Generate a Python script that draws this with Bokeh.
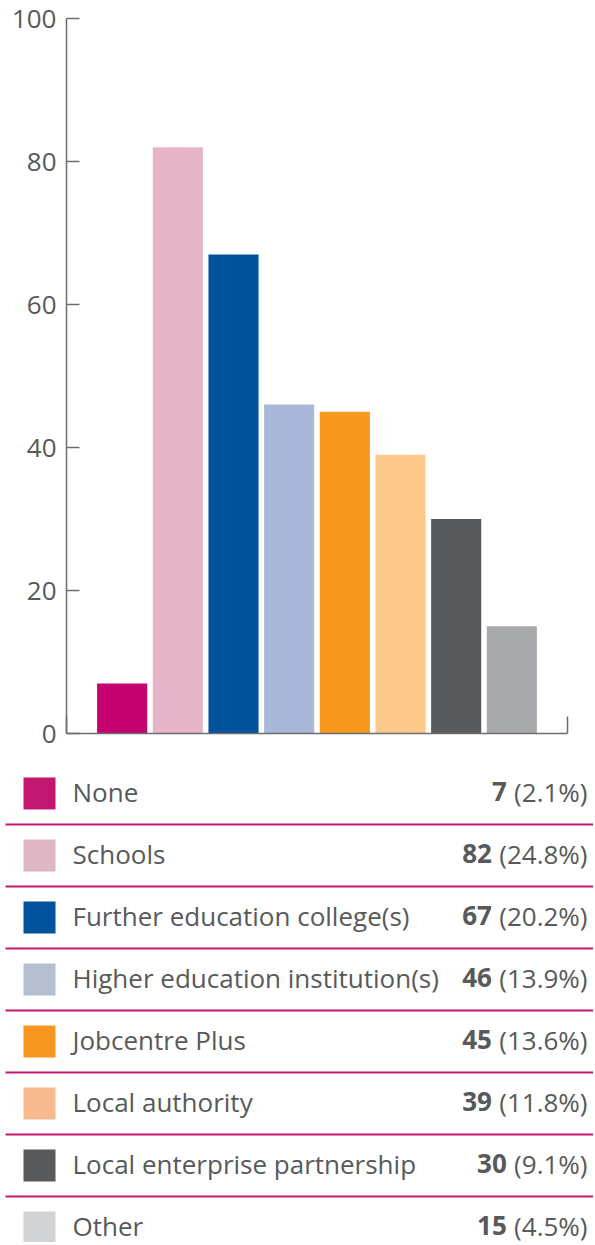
from bokeh.plotting import figure
from bokeh.models import Range1d, FixedTicker, ColumnDataSource
from bokeh.core.properties import value
from bokeh.embed import file_html
from bokeh.resources import INLINE

# ---- data ----
categories = ["None", "Schools", "Further education college(s)",
              "Higher education institution(s)", "Jobcentre Plus",
              "Local authority", "Local enterprise partnership", "Other"]
counts = [7, 82, 67, 46, 45, 39, 30, 15]
percents = ["2.1", "24.8", "20.2", "13.9", "13.6", "11.8", "9.1", "4.5"]
bar_colors = ["#C4006F", "#E6B5CA", "#00529B", "#A9B7D9",
              "#F7971E", "#FDC98A", "#58595B", "#A7A9AC"]
key_colors = ["#C1176E", "#DFB6C3", "#00529B", "#B5BECE",
              "#F7971F", "#F7BA8E", "#58595B", "#D1D3D4"]
y_ticks = [0, 20, 40, 60, 80, 100]

TEXT = "#58595B"
AXIS = "#6D6E71"
RULE = "#C2186F"
FONT = "Open Sans"
FS = 26
W_PAGE = 593

# ---- bar chart ----
idx = list(range(len(categories)))
p = figure(width=W_PAGE, height=760, x_range=Range1d(-1, len(categories)),
           y_range=Range1d(0, 100), output_backend="svg", toolbar_location=None,
           min_border_left=66, min_border_right=W_PAGE - 567, min_border_top=18,
           min_border_bottom=27)
p.outline_line_color = None
p.grid.visible = False

src = ColumnDataSource(dict(x=idx, top=counts, color=bar_colors, cat=categories))
p.vbar(x="x", top="top", bottom=0, width=0.9, fill_color="color",
       line_color=None, source=src)

ya = p.yaxis[0]
ya.ticker = FixedTicker(ticks=y_ticks)
ya.axis_line_color = AXIS
ya.axis_line_width = 1.5
ya.major_tick_line_color = AXIS
ya.major_tick_line_width = 1.5
ya.major_tick_in = 13
ya.major_tick_out = 0
ya.minor_tick_line_color = None
ya.major_label_text_font = FONT
ya.major_label_text_font_size = f"{FS}px"
ya.major_label_text_color = TEXT
ya.major_label_standoff = 10

xa = p.xaxis[0]
xa.ticker = FixedTicker(ticks=[-1, len(categories)])
xa.axis_line_color = AXIS
xa.axis_line_width = 1.5
xa.major_tick_line_color = AXIS
xa.major_tick_line_width = 1.5
xa.major_tick_in = 17
xa.major_tick_out = 0
xa.minor_tick_line_color = None
xa.major_label_text_alpha = 0
xa.major_label_text_font_size = "1px"

# ---- key table (coordinates in page pixels) ----
TOP, BOT = 760, 1242
q = figure(width=W_PAGE, height=BOT - TOP, x_range=Range1d(0, W_PAGE),
           y_range=Range1d(BOT, TOP), output_backend="svg", toolbar_location=None,
           min_border=0)
q.outline_line_color = None
q.grid.visible = False
q.axis.visible = False

pitch = 62
baselines = [803 + pitch * i for i in idx]
centers = [b - 10 for b in baselines]
rules = [b + 21 for b in baselines[:-1]]
TXT_SHIFT = 12  # svg baseline correction
text_y = [b - TXT_SHIFT for b in baselines]

q.segment(x0=5, x1=W_PAGE, y0=rules, y1=rules, line_color=RULE, line_width=2)
q.rect(x=39, y=centers, width=32, height=32, fill_color=key_colors, line_color=None)
q.text(x=72, y=text_y, text=categories, text_font=value(FONT),
       text_font_size=f"{FS}px", text_color=TEXT, text_baseline="alphabetic",
       text_align="left")

W = {"(": 0.297, ")": 0.297, "%": 0.838, ".": 0.266, " ": 0.26}
def width_em(s):
    return sum(W.get(c, 0.572) for c in s)

pct_text = [f"({v}%)" for v in percents]
RIGHT = 587
num_x = [RIGHT - (width_em(t) + W[" "]) * FS for t in pct_text]
q.text(x=RIGHT, y=text_y, text=pct_text, text_font=value(FONT),
       text_font_size=f"{FS}px", text_color=TEXT, text_baseline="alphabetic",
       text_align="right")
q.text(x=num_x, y=text_y, text=[str(c) for c in counts], text_font=value(FONT),
       text_font_size=f"{FS}px", text_font_style="bold", text_color=TEXT,
       text_baseline="alphabetic", text_align="right")

open("out.html", "w").write(file_html([p, q], INLINE))
